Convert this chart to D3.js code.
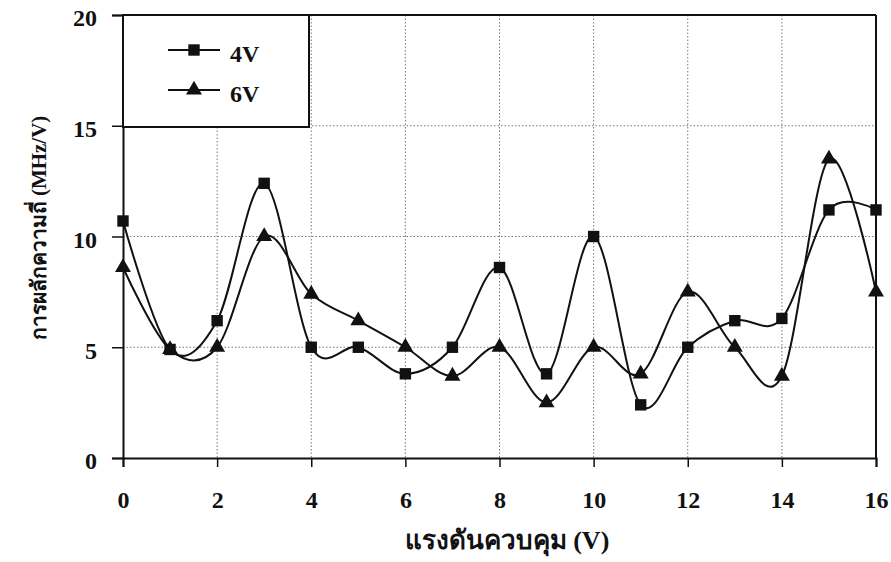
<!DOCTYPE html>
<html><head><meta charset="utf-8">
<script src="https://cdn.jsdelivr.net/npm/d3@7"></script>
<style>body{margin:0;background:#fff}svg{display:block}</style>
</head><body>
<svg id="c" width="891" height="562"></svg>
<script>
const xValues = [0,1,2,3,4,5,6,7,8,9,10,11,12,13,14,15,16];
const series4V = [10.7,4.9,6.2,12.4,5.0,5.0,3.8,5.0,8.6,3.8,10.0,2.4,5.0,6.2,6.3,11.2,11.2];
const series6V = [8.6,4.9,5.0,10.0,7.4,6.2,5.0,3.7,5.0,2.5,5.0,3.8,7.5,5.0,3.7,13.5,7.5];
const xTicks = [0,2,4,6,8,10,12,14,16];
const yTicks = [0,5,10,15,20];
const seriesNames = ["4V","6V"];
const xTitle = "แรงดันควบคุม (V)";
const yTitle = "การผลักความถี่ (MHz/V)";

const svg = d3.select("#c");
const L=123, R=876, T=15, B=458;
const x = d3.scaleLinear().domain([0,16]).range([L,R]);
const y = d3.scaleLinear().domain([0,20]).range([B,T]);
const font = "'Liberation Serif','Times New Roman',serif";

// grid
const g = svg.append("g");
g.selectAll(".vg").data(xTicks.filter(d=>d>0&&d<16)).join("line")
  .attr("x1",d=>x(d)).attr("x2",d=>x(d)).attr("y1",T).attr("y2",B)
  .attr("stroke","#777").attr("stroke-width",1).attr("stroke-dasharray","1.5,2");
g.selectAll(".hg").data(yTicks.filter(d=>d>0&&d<20)).join("line")
  .attr("x1",L).attr("x2",R).attr("y1",d=>y(d)).attr("y2",d=>y(d))
  .attr("stroke","#777").attr("stroke-width",1).attr("stroke-dasharray","1.5,2");

// borders
svg.append("line").attr("x1",L).attr("x2",R).attr("y1",T).attr("y2",T).attr("stroke","#111").attr("stroke-width",2);
svg.append("line").attr("x1",R).attr("x2",R).attr("y1",T).attr("y2",B).attr("stroke","#111").attr("stroke-width",2);

// axes
const xAxis = svg.append("g").attr("transform",`translate(0,${B})`)
  .call(d3.axisBottom(x).tickValues(xTicks).tickSize(9).tickPadding(24).tickFormat(d3.format("d")));
const yAxis = svg.append("g").attr("transform",`translate(${L},0)`)
  .call(d3.axisLeft(y).tickValues(yTicks).tickSize(11).tickPadding(15).tickFormat(d3.format("d")));
[xAxis,yAxis].forEach(a=>{
  a.select(".domain").attr("stroke","#111").attr("stroke-width",2);
  a.selectAll(".tick line").attr("stroke","#111").attr("stroke-width",1.5);
  a.selectAll(".tick text").attr("fill","#111").style("font-family",font)
   .style("font-weight","bold").style("font-size","24px");
});
yAxis.selectAll(".tick text").attr("dy","0.45em");

// lines
const line = d3.line().x((d,i)=>x(xValues[i])).y(d=>y(d)).curve(d3.curveCardinal.tension(0));
svg.append("path").datum(series4V).attr("d",line).attr("fill","none").attr("stroke","#111").attr("stroke-width",2);
svg.append("path").datum(series6V).attr("d",line).attr("fill","none").attr("stroke","#111").attr("stroke-width",2);

const sq = d3.symbol().type(d3.symbolSquare).size(130);
const tri = d3.symbol().type(d3.symbolTriangle).size(110);
svg.selectAll(".m4").data(series4V).join("path")
  .attr("d",sq).attr("transform",(d,i)=>`translate(${x(xValues[i])},${y(d)})`).attr("fill","#111");
svg.selectAll(".m6").data(series6V).join("path")
  .attr("d",tri).attr("transform",(d,i)=>`translate(${x(xValues[i])},${y(d)})`).attr("fill","#111");

// legend
const lg = svg.append("g");
lg.append("rect").attr("x",L).attr("y",T).attr("width",309-L).attr("height",127-T)
  .attr("fill","#fff").attr("stroke","#111").attr("stroke-width",2);
const legY=[50,90];
seriesNames.forEach((n,i)=>{
  lg.append("line").attr("x1",168).attr("x2",220).attr("y1",legY[i]).attr("y2",legY[i]).attr("stroke","#111").attr("stroke-width",2);
  lg.append("path").attr("d",i===0?sq:tri).attr("transform",`translate(194,${legY[i]})`).attr("fill","#111");
  lg.append("text").attr("x",230).attr("y",legY[i]+12).text(n)
    .style("font-family",font).style("font-weight","bold").style("font-size","24px").attr("fill","#111");
});

// titles
svg.append("text").attr("x",507).attr("y",549).attr("text-anchor","middle").text(xTitle)
  .style("font-family",font).style("font-weight","bold").style("font-size","26px").attr("fill","#111");
svg.append("text").attr("transform",`translate(46,228) rotate(-90)`).attr("text-anchor","middle").text(yTitle)
  .style("font-family",font).style("font-weight","bold").style("font-size","21px").attr("fill","#111");
</script>
</body></html>
